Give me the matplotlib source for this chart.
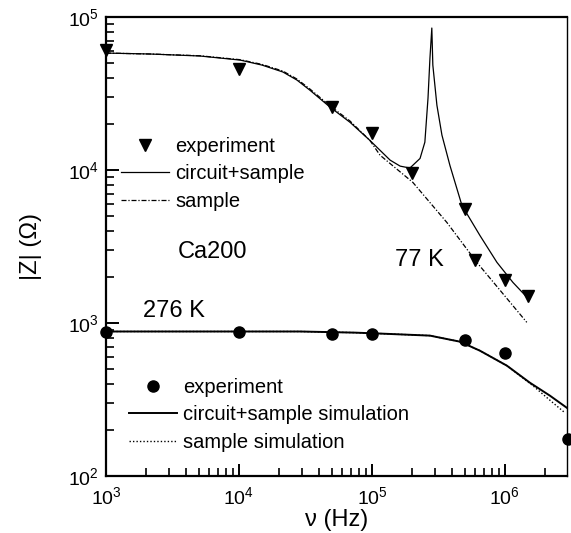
import matplotlib
matplotlib.use("Agg")
import matplotlib.pyplot as plt
from matplotlib.ticker import LogLocator, NullFormatter

plt.rcParams['font.family'] = ['Liberation Sans', 'DejaVu Sans']
plt.rcParams['mathtext.fontset'] = 'custom'
plt.rcParams['mathtext.rm'] = 'Liberation Sans'
plt.rcParams['mathtext.it'] = 'Liberation Sans:italic'
plt.rcParams['mathtext.default'] = 'regular'

# ---- 77 K data ----
exp77_f = [1e3, 1e4, 5e4, 1e5, 2e5, 5e5, 6e5, 1e6, 1.5e6]
exp77_z = [61000, 46000, 26000, 17500, 9600, 5600, 2600, 1900, 1500]

circ77_f = [1000, 2140, 5090, 10200, 14900, 21400, 27300, 34200, 48300, 68400,
            96600, 137000, 163000, 193000, 230000, 250000, 264000, 273000, 282000,
            287000, 308000, 336000, 386000, 475000, 649000, 871000, 1150000, 1490000]
circ77_z = [58100, 57300, 55600, 52300, 48500, 43700, 38700, 33200, 25800, 20500,
            15600, 11600, 10600, 10300, 11900, 15200, 29500, 53800, 84700,
            48500, 26500, 16900, 10700, 5870, 3730, 2490, 1840, 1450]

samp77_f = [1000, 2140, 5090, 10200, 14900, 21400, 27300, 34200, 48300, 68400,
            96600, 115000, 203000, 366000, 615000, 1460000]
samp77_z = [58100, 57300, 55800, 52600, 49000, 44300, 39300, 33800, 26300, 20900,
            15600, 12500, 8300, 4540, 2490, 1010]

# ---- 276 K data ----
exp276_f = [1e3, 1e4, 5e4, 1e5, 5e5, 1e6, 3e6]
exp276_z = [870, 870, 850, 850, 780, 640, 175]

circ276_f = [1000, 10000, 28800, 74500, 115000, 273000, 459000, 649000, 1035000,
             1542000, 2180000, 2924000]
circ276_z = [880, 880, 880, 865, 853, 827, 755, 659, 526, 407, 335, 279]

samp276_f = [1000, 10000, 28800, 74500, 115000, 273000, 459000, 649000, 1035000,
             1625000, 2297000, 2826000]
samp276_z = [880, 880, 880, 865, 853, 827, 755, 659, 526, 389, 301, 259]

W, H = 571, 533
fig = plt.figure(figsize=(W / 100, H / 100), dpi=100)
ax = fig.add_axes([106 / W, 1 - 476 / H, (567 - 106) / W, (476 - 17) / H])

ax.set_xscale('log')
ax.set_yscale('log')
ax.set_xlim(1e3, 2.93e6)
ax.set_ylim(1e2, 1e5)

l_c77, = ax.plot(circ77_f, circ77_z, color='black', lw=0.9, ls='-')
l_s77, = ax.plot(samp77_f, samp77_z, color='black', lw=0.9, ls=(0, (4, 1.5, 1, 1.5)))
m77, = ax.plot(exp77_f, exp77_z, 'v', color='black', ms=9, ls='none', clip_on=False)

l_c276, = ax.plot(circ276_f, circ276_z, color='black', lw=1.4, ls='-')
l_s276, = ax.plot(samp276_f, samp276_z, color='black', lw=1.0, ls=(0, (1, 1.5)))
m276, = ax.plot(exp276_f, exp276_z, 'o', color='black', ms=8, ls='none', clip_on=False)

for s in ax.spines.values():
    s.set_linewidth(1.6)
ax.spines['right'].set_linewidth(1.0)

ax.xaxis.set_major_locator(LogLocator(base=10, numticks=10))
ax.xaxis.set_minor_locator(LogLocator(base=10, subs=range(2, 10), numticks=20))
ax.yaxis.set_major_locator(LogLocator(base=10, numticks=10))
ax.yaxis.set_minor_locator(LogLocator(base=10, subs=range(2, 10), numticks=20))
ax.xaxis.set_minor_formatter(NullFormatter())
ax.yaxis.set_minor_formatter(NullFormatter())
ax.tick_params(which='major', direction='in', length=9, width=1.4, labelsize=14,
               top=False, right=False)
ax.tick_params(axis='x', which='major', pad=7)
ax.tick_params(axis='y', which='major', pad=5)
ax.tick_params(which='minor', direction='in', length=5.5, width=1.2, top=False, right=False)

ax.set_xlabel('ν (Hz)', fontsize=17, labelpad=1)
ax.set_ylabel('|Z| (Ω)', fontsize=17, labelpad=19)


def px(xp, yp):
    return (xp / W, 1 - yp / H)


fig.text(*px(178, 258), 'Ca200', fontsize=17, va='baseline', ha='left')
fig.text(*px(395, 266), '77 K', fontsize=17, va='baseline', ha='left')
fig.text(*px(143, 317), '276 K', fontsize=17, va='baseline', ha='left')

leg1 = ax.legend([m77, l_c77, l_s77], ['experiment', 'circuit+sample', 'sample'],
                 loc='upper left', bbox_to_anchor=px(121, 137), bbox_transform=fig.transFigure,
                 frameon=False, fontsize=14.5, handlelength=2.4, handletextpad=0.3,
                 labelspacing=0.42, borderpad=0, borderaxespad=0)
ax.add_artist(leg1)
leg2 = ax.legend([m276, l_c276, l_s276],
                 ['experiment', 'circuit+sample simulation', 'sample simulation'],
                 loc='upper left', bbox_to_anchor=px(129, 378), bbox_transform=fig.transFigure,
                 frameon=False, fontsize=14.5, handlelength=2.4, handletextpad=0.3,
                 labelspacing=0.42, borderpad=0, borderaxespad=0)

fig.savefig('out.png', dpi=100)
